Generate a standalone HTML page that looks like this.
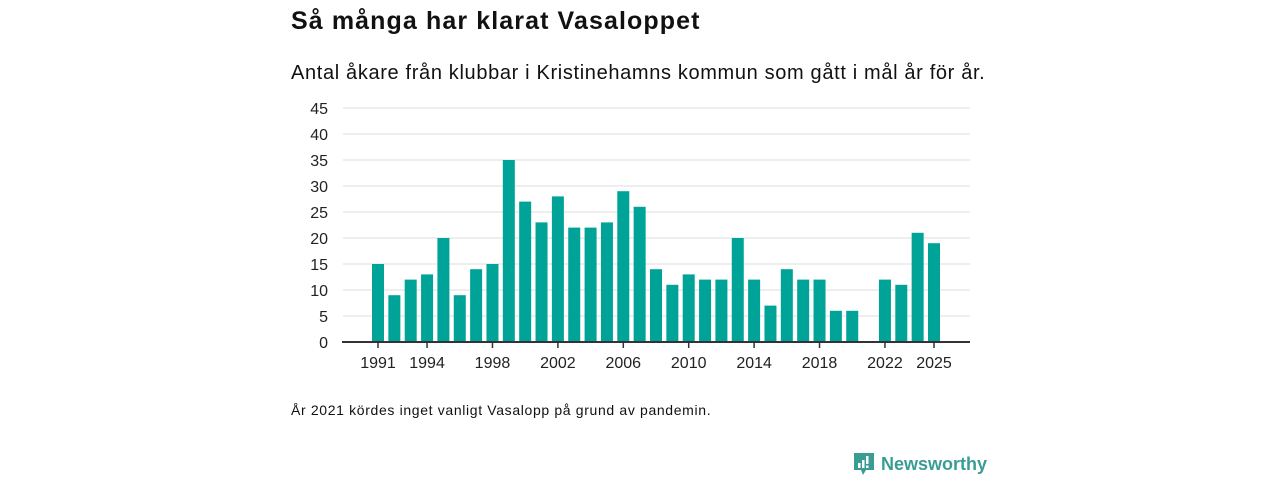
<!DOCTYPE html>
<html><head><meta charset="utf-8"><style>
body{margin:0;width:1280px;height:480px;background:#fff;font-family:"Liberation Sans",sans-serif;position:relative;overflow:hidden}
.t{position:absolute;left:291px;top:7px;font-size:25px;font-weight:bold;color:#111;letter-spacing:1.1px}
.s{position:absolute;left:291px;top:62px;font-size:20px;color:#111;letter-spacing:0.65px}
.n{position:absolute;left:291px;top:402px;font-size:14px;color:#111;letter-spacing:0.65px}
.logo{position:absolute;left:853px;top:452px;display:flex;align-items:center;gap:6px;color:#3a9d94;font-size:18px;font-weight:bold}
</style></head><body>
<div class="t">Så många har klarat Vasaloppet</div>
<div class="s">Antal åkare från klubbar i Kristinehamns kommun som gått i mål år för år.</div>
<svg id="c" width="1280" height="480" style="position:absolute;left:0;top:0"></svg>
<div class="n">År 2021 kördes inget vanligt Vasalopp på grund av pandemin.</div>
<div class="logo"><svg width="22" height="24" viewBox="0 0 22 24"><path d="M1 1h20v17h-8l-3 5-2-5H1z" fill="#3a9d94"/><rect x="5" y="11" width="2.5" height="5" fill="#fff"/><rect x="9" y="8" width="2.5" height="8" fill="#fff"/><rect x="13" y="4" width="2.5" height="8" fill="#fff"/><rect x="13" y="13.5" width="2.5" height="2.5" fill="#fff"/></svg><span>Newsworthy</span></div>
<script>
const years=[1991,1992,1993,1994,1995,1996,1997,1998,1999,2000,2001,2002,2003,2004,2005,2006,2007,2008,2009,2010,2011,2012,2013,2014,2015,2016,2017,2018,2019,2020,2021,2022,2023,2024,2025];
const values=[15,9,12,13,20,9,14,15,35,27,23,28,22,22,23,29,26,14,11,13,12,12,20,12,7,14,12,12,6,6,null,12,11,21,19];
const yTicks=[0,5,10,15,20,25,30,35,40,45];
const xTicks=[1991,1994,1998,2002,2006,2010,2014,2018,2022,2025];
const NS="http://www.w3.org/2000/svg",svg=document.getElementById('c');
const x=y=>378+(y-1991)*(934-378)/34;
const yy=v=>342-v*(342-108)/45;
function mk(t,a){const e=document.createElementNS(NS,t);for(const k in a)e.setAttribute(k,a[k]);svg.appendChild(e);return e;}
yTicks.forEach(v=>{
 if(v>0){const g=mk('line',{x1:343,x2:970,y1:yy(v),y2:yy(v),stroke:'#ddd','stroke-width':1});
 
 }
 const t=mk('text',{x:328,y:yy(v)+6,'text-anchor':'end','font-size':16,fill:'#222','font-family':'Liberation Sans, sans-serif'});
 t.textContent=v;
 
 
});
years.forEach((yr,i)=>{const v=values[i];if(v==null)return;
 const r=mk('rect',{x:x(yr)-6,y:yy(v),width:12,height:342-yy(v),fill:'#00a398'});
 
 
});
const ax=mk('line',{x1:342,x2:970,y1:342,y2:342,stroke:'#333','stroke-width':2});


xTicks.forEach(yr=>{
 const tk=mk('line',{x1:x(yr),x2:x(yr),y1:342,y2:348,stroke:'#333','stroke-width':1.5});
 
 
 const t=mk('text',{x:x(yr),y:368,'text-anchor':'middle','font-size':16,fill:'#222','font-family':'Liberation Sans, sans-serif'});
 t.textContent=yr;
 
 
});
</script>
</body></html>
